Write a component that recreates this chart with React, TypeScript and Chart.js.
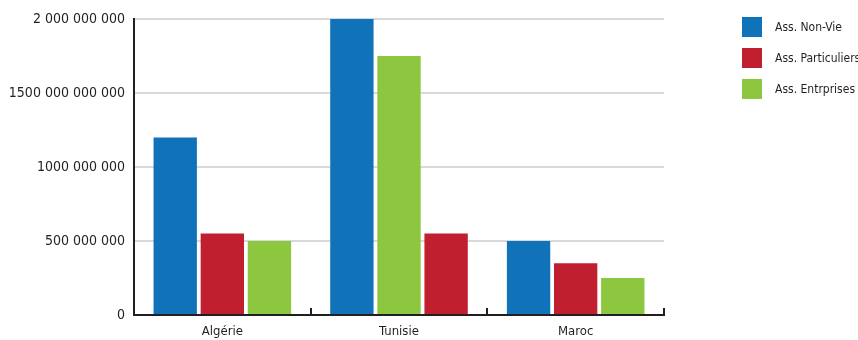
import React, { useEffect, useRef } from "react";
import { Chart, registerables } from "chart.js";

Chart.register(...registerables);

// Countries on the category axis
const countries = ["Algérie", "Tunisie", "Maroc"];

// Series names and colours
const seriesNames = ["Ass. Non-Vie", "Ass. Particuliers", "Ass. Entrprises"];
const seriesColors = ["#1073ba", "#c01f2f", "#8dc63f"];

// Bar values per series (one per country)
const nonVie = [1200000000, 2000000000, 500000000];
const particuliers = [550000000, 1750000000, 350000000];
const entreprises = [500000000, 550000000, 250000000];

// Colour per bar (the Tunisie pair is shown green then red)
const particuliersColors = ["#c01f2f", "#8dc63f", "#c01f2f"];
const entreprisesColors = ["#8dc63f", "#c01f2f", "#8dc63f"];

// Value-axis labels, bottom to top
const tickValues = [0, 500000000, 1000000000, 1500000000, 2000000000];
const tickLabels = ["0", "500 000 000", "1000 000 000", "1500 000 000 000", "2 000 000 000"];

const FONT = "'DejaVu Sans Condensed', 'Liberation Sans Narrow', sans-serif";
const TEXT = "#231f20";

// Short upward ticks on the category axis at each category boundary
const categoryTicks = {
  id: "categoryTicks",
  afterDatasetsDraw(chart: any) {
    const x = chart.scales.x;
    const { ctx } = chart;
    const n = chart.data.labels.length;
    const step = x.width / n;
    ctx.save();
    ctx.strokeStyle = TEXT;
    ctx.lineWidth = 2;
    for (let i = 1; i <= n; i++) {
      const px = Math.round(x.left + i * step);
      ctx.beginPath();
      ctx.moveTo(px, x.top);
      ctx.lineTo(px, x.top - 7);
      ctx.stroke();
    }
    ctx.restore();
  },
};

export default function App() {
  const ref = useRef<HTMLCanvasElement | null>(null);

  useEffect(() => {
    if (!ref.current) return;
    const chart = new Chart(ref.current, {
      type: "bar",
      data: {
        labels: countries,
        datasets: [
          { label: seriesNames[0], data: nonVie, backgroundColor: seriesColors[0] },
          { label: seriesNames[1], data: particuliers, backgroundColor: particuliersColors },
          { label: seriesNames[2], data: entreprises, backgroundColor: entreprisesColors },
        ],
      },
      options: {
        animation: false,
        responsive: true,
        maintainAspectRatio: false,
        layout: { padding: { top: 19, right: 194, bottom: 0, left: 0 } },
        datasets: { bar: { categoryPercentage: 0.8, barPercentage: 0.92 } },
        plugins: { legend: { display: false }, tooltip: { enabled: false } },
        scales: {
          x: {
            afterFit: (s: any) => {
              s.height = 25;
            },
            grid: { display: false, drawTicks: false },
            border: { display: true, color: TEXT, width: 2 },
            ticks: { color: TEXT, padding: 9, font: { family: FONT, size: 13 } },
          },
          y: {
            min: 0,
            max: 2000000000,
            afterFit: (s: any) => {
              s.width = 134;
            },
            afterBuildTicks: (s: any) => {
              s.ticks = tickValues.map((v) => ({ value: v }));
            },
            grid: { color: "#d9d9d9", lineWidth: 2, drawTicks: false },
            border: { display: true, color: TEXT, width: 2 },
            ticks: {
              color: TEXT,
              padding: 9,
              font: { family: FONT, size: 14 },
              callback: (v: any) => {
                const i = tickValues.indexOf(Number(v));
                return i >= 0 ? tickLabels[i] : "";
              },
            },
          },
        },
      },
      plugins: [categoryTicks],
    } as any);
    return () => chart.destroy();
  }, []);

  return (
    <div style={{ position: "fixed", left: 0, top: 0, width: 858, height: 340, background: "#fff" }}>
      <canvas ref={ref} />
      <div style={{ position: "absolute", left: 742, top: 17, fontFamily: FONT, fontSize: 12, color: TEXT }}>
        {seriesNames.map((name, i) => (
          <div key={name} style={{ display: "flex", alignItems: "center", height: 20, marginBottom: 11 }}>
            <span style={{ display: "inline-block", width: 20, height: 20, background: seriesColors[i] }} />
            <span style={{ marginLeft: 13, whiteSpace: "nowrap" }}>{name}</span>
          </div>
        ))}
      </div>
    </div>
  );
}
